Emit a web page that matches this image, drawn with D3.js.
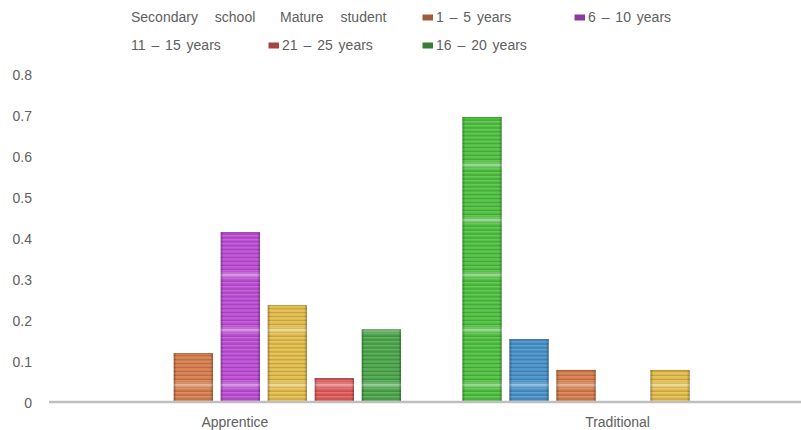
<!DOCTYPE html>
<html>
<head>
<meta charset="utf-8">
<script src="https://cdn.jsdelivr.net/npm/d3@7/dist/d3.min.js"></script>
<style>
  html, body { margin: 0; padding: 0; background: #ffffff; }
  svg { display: block; font-family: "Liberation Sans", Arial, sans-serif; }
</style>
</head>
<body>
<svg id="chart" width="801" height="430"></svg>
<script>
// Groups along the x axis
const categories = ["Apprentice", "Traditional"];

// Series, in drawing order within each group
const seriesNames = [
  "Secondary school", "Mature student",
  "1 – 5 years", "6 – 10 years", "11 – 15 years",
  "21 – 25 years", "16 – 20 years"
];
const seriesColors = [
  "#52c443", "#4b95cd", "#d9804f", "#c150d8", "#e6c04e", "#e45d5d", "#4ea94e"
];
// Legend entries that carry a colour key
const legendKeyed = [false, false, true, true, false, true, true];

// Share of each series per group (null = no bar)
const apprenticeValues  = [null, null, 0.118, 0.413, 0.235, 0.057, 0.176];
const traditionalValues = [0.694, 0.152, 0.077, null, 0.077, null, null];

const yTicks = [0, 0.1, 0.2, 0.3, 0.4, 0.5, 0.6, 0.7, 0.8];
const yTickLabels = ["0", "0.1", "0.2", "0.3", "0.4", "0.5", "0.6", "0.7", "0.8"];

const valuesByCategory = [apprenticeValues, traditionalValues];

const svg = d3.select("#chart");
const textColor = "#606060";

// Scales
const x0 = d3.scaleBand().domain(categories).range([49, 814.4]).padding(0);
const x1 = d3.scaleBand().domain(seriesNames)
  .range([0, x0.bandwidth()]).paddingInner(0.164).paddingOuter(0.653);
const y = d3.scaleLinear().domain([0, 0.8]).range([401.5, 73.5]);

// Striped, glossy fills, one per series
const defs = svg.append("defs");
seriesColors.forEach((c, i) => {
  const base = d3.color(c);
  const dark = base.darker(0.8);
  const p = defs.append("pattern")
    .attr("id", "fill" + i)
    .attr("patternUnits", "userSpaceOnUse")
    .attr("width", 10).attr("height", 55);
  p.append("rect").attr("width", 10).attr("height", 55).attr("fill", base.formatHex());
  const n = 14;
  for (let k = 0; k < n; k++) {
    p.append("rect")
      .attr("x", 0).attr("y", k * 55 / n + 1.6)
      .attr("width", 10).attr("height", 1.4)
      .attr("fill", dark.formatHex()).attr("opacity", 0.6);
    p.append("rect")
      .attr("x", 0).attr("y", k * 55 / n + 3.1)
      .attr("width", 10).attr("height", 0.8)
      .attr("fill", "#ffffff").attr("opacity", 0.15);
  }
  // soft highlight band wrapping around the tile edge
  [[0, 1.5, 0.35], [1.5, 1.5, 0.18], [52, 1.5, 0.18], [53.5, 1.5, 0.35]].forEach(([yy, h, a]) =>
    p.append("rect").attr("x", 0).attr("y", yy).attr("width", 10).attr("height", h)
      .attr("fill", "#ffffff").attr("opacity", a));
});
const edge = defs.append("linearGradient").attr("id", "edge")
  .attr("x1", 0).attr("x2", 1).attr("y1", 0).attr("y2", 0);
[[0, 0.3], [0.07, 0], [0.93, 0], [1, 0.3]].forEach(([o, a]) =>
  edge.append("stop").attr("offset", o).attr("stop-color", "#000").attr("stop-opacity", a));

// Y axis labels (no axis line, no gridlines)
const yAxis = d3.axisLeft(y).tickValues(yTicks)
  .tickFormat((d, i) => yTickLabels[i]).tickSize(0).tickPadding(0);
const gy = svg.append("g").attr("transform", "translate(32,1.5)").call(yAxis);
gy.select(".domain").remove();
gy.selectAll("text").attr("fill", textColor).style("font-size", "14px")
  .style("font-family", "'Liberation Sans', Arial, sans-serif");

// Bars
const groups = svg.append("g").selectAll("g")
  .data(categories).join("g")
  .attr("transform", d => `translate(${x0(d)},0)`);

groups.each(function (cat, ci) {
  const vals = valuesByCategory[ci]
    .map((v, si) => ({ v, si, name: seriesNames[si] }))
    .filter(d => d.v !== null);
  const g = d3.select(this);
  // pattern tiles are in user space, so the tile grid is shared by all bars
  g.selectAll("rect.bar").data(vals).join("rect")
    .attr("class", "bar")
    .attr("transform", `translate(${-x0(cat)},0)`)
    .attr("x", d => x0(cat) + x1(d.name)).attr("width", x1.bandwidth())
    .attr("y", d => y(d.v)).attr("height", d => y(0) - y(d.v))
    .attr("fill", d => `url(#fill${d.si})`);
  g.selectAll("rect.shade").data(vals).join("rect")
    .attr("class", "shade")
    .attr("x", d => x1(d.name)).attr("width", x1.bandwidth())
    .attr("y", d => y(d.v)).attr("height", d => y(0) - y(d.v))
    .attr("fill", "url(#edge)");
  g.selectAll("line.top").data(vals).join("line")
    .attr("class", "top")
    .attr("x1", d => x1(d.name)).attr("x2", d => x1(d.name) + x1.bandwidth())
    .attr("y1", d => y(d.v) + 0.5).attr("y2", d => y(d.v) + 0.5)
    .attr("stroke", d => d3.color(seriesColors[d.si]).darker(0.8).formatHex())
    .attr("stroke-width", 1).attr("opacity", 0.8);
});

// Baseline
svg.append("line")
  .attr("x1", 49).attr("x2", 801)
  .attr("y1", y(0) + 0.5).attr("y2", y(0) + 0.5)
  .attr("stroke", "#bfbfbf").attr("stroke-width", 2.5);

// Category labels
const xAxis = d3.axisBottom(x0).tickSize(0).tickPadding(0);
const gx = svg.append("g").attr("transform", `translate(0,${y(0)})`).call(xAxis);
gx.select(".domain").remove();
gx.selectAll("text")
  .attr("fill", textColor).attr("dy", 0).attr("y", 25.5).attr("dx", -5.5)
  .style("font-size", "14px")
  .style("font-family", "'Liberation Sans', Arial, sans-serif");

// Legend: two rows, four columns
const legendCols = [131, 282, 436, 588];
const legendRows = [22, 50];
const legend = svg.append("g").selectAll("g")
  .data(seriesNames.map((name, i) => ({ name, i })))
  .join("g")
  .attr("transform", d => `translate(${legendCols[d.i % 4]},${legendRows[Math.floor(d.i / 4)]})`);
legend.filter(d => legendKeyed[d.i]).append("rect")
  .attr("x", -13.5).attr("y", -7.5).attr("width", 10.5).attr("height", 6)
  .attr("fill", d => d3.color(seriesColors[d.i]).darker(0.9).formatHex());
legend.append("text")
  .attr("x", d => d.i === 1 ? -2 : 0)
  .attr("fill", textColor)
  .style("font-size", "14px")
  .style("word-spacing", d => d.i < 2 ? "13px" : "2px")
  .text(d => d.name);
</script>
</body>
</html>
